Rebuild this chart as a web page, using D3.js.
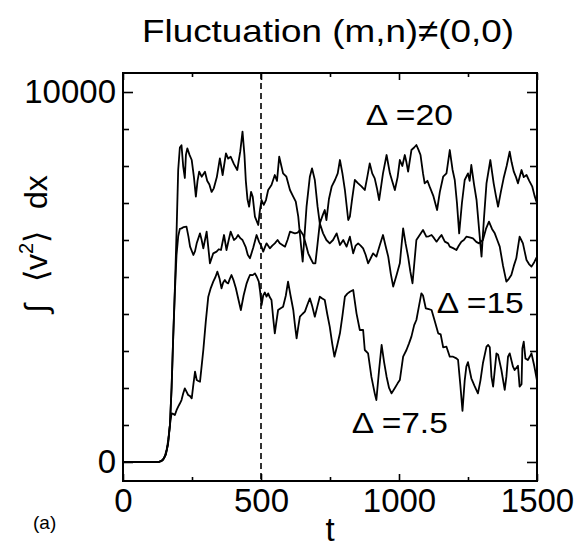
<!DOCTYPE html>
<html>
<head>
<meta charset="utf-8">
<script src="https://cdn.jsdelivr.net/npm/d3@7"></script>
<style>
  body { margin: 0; background: #fff; }
  svg text { font-family: "Liberation Sans", Arial, Helvetica, sans-serif; fill: #000; }
</style>
</head>
<body>
<div id="chart"></div>
<script>
// Fluctuation energy vs time, three widths Delta
const t20 = [0, 130, 145, 155, 163, 170, 176, 182, 188, 194, 200, 206, 212, 218, 224, 228, 233, 241, 249, 257, 264, 270, 276, 285, 297, 305, 313, 321, 329, 340, 351, 361, 373, 381, 390, 402, 414, 425, 433, 440, 445, 451, 457, 464, 470, 478, 490, 496, 502, 510, 518, 526, 538, 550, 558, 566, 580, 592, 605, 615, 626, 635, 643, 651, 665, 677, 685, 695, 705, 713, 725, 731, 737, 746, 756, 768, 778, 786, 795, 804, 816, 822, 830, 840, 852, 864, 876, 885, 894, 903, 912, 920, 928, 942, 955, 967, 975, 985, 995, 1003, 1012, 1021, 1027, 1033, 1045, 1055, 1063, 1070, 1078, 1087, 1093, 1103, 1111, 1124, 1138, 1148, 1160, 1172, 1184, 1194, 1202, 1210, 1218, 1228, 1238, 1250, 1256, 1262, 1272, 1281, 1290, 1299, 1308, 1317, 1331, 1343, 1351, 1359, 1369, 1379, 1390, 1401, 1408, 1416, 1424, 1431, 1444, 1452, 1462, 1472, 1483, 1491, 1500];
const v20 = [0, 0, 60, 200, 480, 1000, 2000, 3400, 4700, 6200, 7900, 8500, 8560, 8000, 7676, 8300, 8478, 8300, 8162, 7700, 7170, 7600, 7846, 7711, 7846, 7600, 7500, 7300, 7396, 7700, 8207, 7757, 8342, 8200, 8252, 8050, 7892, 8400, 8928, 8300, 7600, 7100, 6900, 7300, 7170, 6630, 6405, 6800, 7081, 6950, 7081, 7351, 7486, 7757, 7600, 8252, 7802, 7711, 7351, 7200, 7036, 6630, 6000, 5414, 6900, 7711, 7937, 7622, 6900, 6450, 6700, 6811, 6540, 7100, 7441, 7622, 7800, 8162, 7800, 7351, 6540, 6630, 7100, 7622, 7532, 7450, 7351, 7700, 8072, 7800, 7667, 7400, 7081, 7800, 8297, 7802, 7600, 7351, 7700, 8162, 8000, 8297, 8100, 7846, 8432, 8500, 8568, 8450, 8297, 7800, 7532, 7600, 7441, 7200, 6811, 7300, 7711, 7800, 8432, 7900, 7622, 7000, 6180, 7000, 7622, 7802, 7600, 8027, 7500, 7081, 6300, 5549, 6600, 7532, 8162, 7532, 7200, 6900, 7300, 7667, 8000, 8387, 8100, 7846, 7700, 7532, 7892, 7700, 7757, 7600, 7441, 7200, 6991];

const t15 = [0, 130, 145, 155, 163, 170, 176, 182, 188, 194, 200, 206, 212, 220, 230, 237, 243, 255, 261, 267, 279, 285, 291, 297, 303, 309, 315, 327, 339, 347, 355, 366, 375, 383, 390, 402, 410, 417, 425, 433, 445, 452, 460, 472, 484, 493, 502, 508, 514, 520, 532, 541, 550, 560, 568, 587, 596, 605, 615, 623, 633, 641, 653, 662, 671, 680, 689, 697, 705, 713, 725, 737, 749, 761, 774, 786, 798, 810, 822, 834, 843, 852, 861, 870, 879, 888, 897, 906, 918, 930, 942, 951, 961, 970, 979, 991, 1003, 1015, 1024, 1033, 1041, 1049, 1057, 1063, 1075, 1087, 1099, 1108, 1118, 1127, 1136, 1145, 1154, 1166, 1178, 1184, 1196, 1208, 1217, 1226, 1235, 1244, 1256, 1268, 1280, 1290, 1304, 1315, 1326, 1337, 1347, 1356, 1365, 1377, 1389, 1398, 1407, 1416, 1425, 1431, 1437, 1443, 1449, 1455, 1462, 1471, 1480, 1490, 1500];
const v15 = [0, 0, 60, 200, 480, 1000, 2000, 3400, 4600, 5600, 6100, 6300, 6315, 6350, 6360, 6100, 5819, 5595, 5700, 5910, 6180, 6000, 5775, 6000, 6225, 5800, 5370, 5640, 5685, 5750, 5730, 6135, 5730, 6000, 6225, 6000, 6050, 6135, 6050, 6000, 5800, 5600, 5505, 5800, 6135, 5950, 5820, 5685, 5800, 5910, 5775, 5850, 5910, 6000, 5910, 5820, 6000, 6225, 6200, 6180, 6200, 6270, 6135, 5900, 5640, 5500, 5370, 5370, 5900, 6450, 6180, 6000, 5910, 6000, 6180, 5865, 6000, 5820, 6090, 5640, 5850, 5910, 5850, 5775, 5600, 5370, 5500, 5640, 5550, 5850, 6135, 5850, 5550, 5100, 4740, 5050, 5370, 6315, 5900, 5550, 5150, 4830, 5500, 6000, 6135, 6270, 6090, 6100, 6135, 6050, 5955, 6050, 6135, 5955, 5910, 5820, 5780, 5730, 5850, 5955, 6000, 6090, 6070, 6045, 5950, 5910, 6000, 6300, 6495, 6300, 6180, 6000, 5820, 5300, 4874, 4950, 5054, 5300, 5505, 5800, 6090, 6000, 5910, 5700, 5460, 5350, 5280, 5400, 5550];

const t75 = [0, 130, 140, 150, 158, 164, 170, 176, 182, 188, 194, 200, 206, 212, 218, 224, 230, 236, 243, 249, 255, 261, 267, 273, 279, 285, 291, 300, 309, 318, 327, 335, 342, 350, 357, 363, 369, 375, 381, 387, 393, 401, 409, 418, 427, 437, 448, 454, 460, 470, 478, 485, 492, 497, 502, 508, 514, 520, 526, 532, 538, 544, 550, 556, 562, 570, 580, 590, 598, 607, 617, 623, 629, 635, 641, 650, 659, 668, 677, 686, 695, 704, 713, 722, 731, 740, 749, 758, 766, 776, 786, 795, 804, 813, 822, 834, 846, 858, 870, 876, 888, 900, 912, 918, 928, 937, 946, 955, 964, 973, 985, 995, 1003, 1015, 1027, 1036, 1045, 1055, 1063, 1072, 1081, 1087, 1097, 1108, 1118, 1130, 1142, 1151, 1160, 1172, 1184, 1196, 1208, 1214, 1222, 1230, 1238, 1244, 1250, 1262, 1274, 1286, 1295, 1304, 1317, 1323, 1329, 1335, 1341, 1353, 1359, 1371, 1383, 1389, 1395, 1401, 1413, 1419, 1431, 1437, 1444, 1447, 1452, 1458, 1467, 1474, 1480, 1490, 1500];
const v75 = [0, 0, 20, 120, 324, 595, 1000, 1315, 1300, 1270, 1400, 1495, 1580, 1675, 1850, 1990, 1900, 1810, 1780, 1720, 2100, 2440, 2215, 2190, 2170, 2600, 3027, 3800, 4468, 4700, 4874, 5000, 5144, 4950, 4694, 4850, 4919, 4850, 4829, 4950, 5054, 4900, 4694, 4400, 4108, 4500, 4829, 4950, 5054, 5050, 5099, 5000, 4874, 4600, 4243, 4500, 4580, 4468, 4558, 4450, 4378, 3900, 3478, 3800, 4108, 4150, 4198, 4500, 4874, 4500, 4108, 3700, 3343, 3650, 3928, 4000, 4063, 4250, 4423, 4200, 3928, 4200, 4468, 4420, 4378, 4000, 3658, 3200, 2846, 3150, 3478, 3950, 4468, 4550, 4603, 4649, 4018, 3568, 3568, 3027, 2937, 2300, 1855, 1675, 2500, 3162, 2700, 2305, 2000, 1855, 2000, 2125, 2215, 2846, 3027, 3200, 3388, 3700, 3838, 4200, 4559, 4500, 4154, 4130, 4108, 3800, 3478, 3450, 3100, 3117, 2846, 2846, 2802, 2757, 2100, 1380, 2200, 2576, 2700, 2262, 2050, 1855, 2200, 2667, 3117, 3162, 3100, 2305, 2035, 2937, 2900, 2486, 1950, 2300, 2846, 2937, 2576, 2486, 2600, 2035, 2100, 3072, 3250, 2800, 2757, 2850, 2937, 2600, 2200];

const xMajor = [0, 500, 1000, 1500];
const xMinor = [250, 750, 1250];
const yMajor = [0, 10000];
const yMinor = [1000, 2000, 3000, 4000, 5000, 6000, 7000, 8000, 9000];
const tMark = 500;

const labels = [
  { text: "Δ =20", t: 880, v: 9110, len: 87 },
  { text: "Δ =15", t: 1137, v: 4030, len: 87 },
  { text: "Δ =7.5", t: 829, v: 790, len: 96 }
];

const W = 578, H = 549;
const margin = { left: 123, right: 537, top: 73, bottom: 481 };

const svg = d3.select("#chart").append("svg")
  .attr("width", W)
  .attr("height", H);

const x = d3.scaleLinear().domain([0, 1500]).range([margin.left, margin.right]);
const y = d3.scaleLinear().domain([-514, 10514]).range([margin.bottom, margin.top]);

// axes, ticks pointing inward
function clean(g) {
  g.select(".domain").remove();
  g.selectAll(".tick line").attr("stroke", "#000").attr("stroke-width", 1.6);
  g.selectAll(".tick text").attr("font-size", 33).attr("fill", "#000")
    .attr("font-family", "'Liberation Sans', Arial, sans-serif");
}

svg.append("g").attr("transform", `translate(0,${margin.bottom})`)
  .call(d3.axisBottom(x).tickValues(xMajor).tickSize(-7).tickPadding(8).tickFormat(d3.format("d")))
  .call(clean);
svg.append("g").attr("transform", `translate(0,${margin.bottom})`)
  .call(d3.axisBottom(x).tickValues(xMinor).tickSize(-4).tickFormat(""))
  .call(clean);
svg.append("g").attr("transform", `translate(0,${margin.top})`)
  .call(d3.axisTop(x).tickValues(xMajor).tickSize(-7).tickFormat(""))
  .call(clean);
svg.append("g").attr("transform", `translate(0,${margin.top})`)
  .call(d3.axisTop(x).tickValues(xMinor).tickSize(-4).tickFormat(""))
  .call(clean);

svg.append("g").attr("transform", `translate(${margin.left},0)`)
  .call(d3.axisLeft(y).tickValues(yMajor).tickSize(-10).tickPadding(7).tickFormat(d3.format("d")))
  .call(clean);
svg.append("g").attr("transform", `translate(${margin.left},0)`)
  .call(d3.axisLeft(y).tickValues(yMinor).tickSize(-6).tickFormat(""))
  .call(clean);
svg.append("g").attr("transform", `translate(${margin.right},0)`)
  .call(d3.axisRight(y).tickValues(yMajor).tickSize(-10).tickFormat(""))
  .call(clean);
svg.append("g").attr("transform", `translate(${margin.right},0)`)
  .call(d3.axisRight(y).tickValues(yMinor).tickSize(-7).tickFormat(""))
  .call(clean);

// frame
svg.append("rect")
  .attr("x", margin.left).attr("y", margin.top)
  .attr("width", margin.right - margin.left).attr("height", margin.bottom - margin.top)
  .attr("fill", "none").attr("stroke", "#000").attr("stroke-width", 2);

// dashed marker at t = 500
svg.append("line")
  .attr("x1", x(tMark)).attr("x2", x(tMark))
  .attr("y1", margin.top).attr("y2", margin.bottom)
  .attr("stroke", "#000").attr("stroke-width", 1.6)
  .attr("stroke-dasharray", "6,4");

// curves
const line = d3.line().x(d => x(d[0])).y(d => y(d[1]));
[[t20, v20], [t15, v15], [t75, v75]].forEach(([ts, vs]) => {
  svg.append("path")
    .datum(d3.zip(ts, vs))
    .attr("d", line)
    .attr("fill", "none")
    .attr("stroke", "#000")
    .attr("stroke-width", 1.8)
    .attr("stroke-linejoin", "round");
});

// curve labels
svg.selectAll(".lab").data(labels).enter().append("text")
  .attr("class", "lab")
  .attr("x", d => x(d.t)).attr("y", d => y(d.v))
  .attr("font-size", 30)
  .attr("textLength", d => d.len)
  .attr("lengthAdjust", "spacingAndGlyphs")
  .text(d => d.text);

// title and axis labels
svg.append("text")
  .attr("x", 142).attr("y", 42)
  .attr("font-size", 32)
  .attr("textLength", 372)
  .attr("lengthAdjust", "spacingAndGlyphs")
  .text("Fluctuation (m,n)\u2260(0,0)");

svg.append("text")
  .attr("x", 330).attr("y", 541)
  .attr("text-anchor", "middle")
  .attr("font-size", 33)
  .text("t");

svg.append("text")
  .attr("x", 33).attr("y", 529)
  .attr("font-size", 19)
  .text("(a)");

const ylab = svg.append("text")
  .attr("transform", "translate(47,244) rotate(-90)")
  .attr("text-anchor", "middle")
  .attr("font-size", 32);
ylab.append("tspan").text("\u222B");
ylab.append("tspan").attr("dx", 22).text("\u27E8v");
ylab.append("tspan").attr("font-size", 20).attr("dy", -14).text("2");
ylab.append("tspan").attr("dy", 14).text("\u27E9");
ylab.append("tspan").attr("dx", 22).text("dx");
</script>
</body>
</html>
